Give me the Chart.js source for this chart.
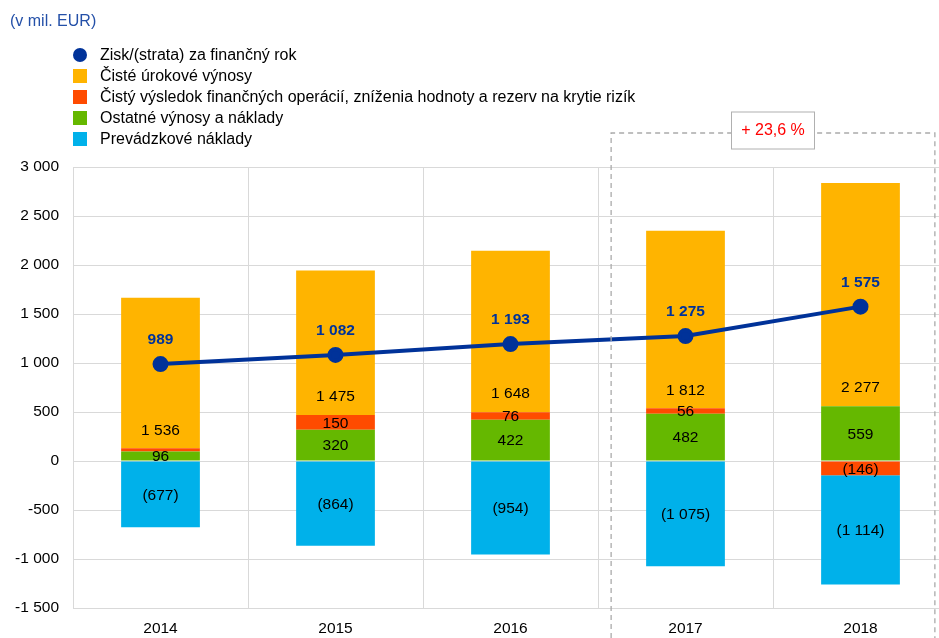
<!DOCTYPE html>
<html>
<head>
<meta charset="utf-8">
<script src="https://cdn.jsdelivr.net/npm/chart.js@4"></script>
<style>
  html, body { margin: 0; padding: 0; overflow: hidden; background: #fff; }
  body { width: 939px; height: 638px; position: relative; font-family: "Liberation Sans", Arial, sans-serif; }
  #graphId { position: absolute; left: 0; top: 0; }
  .unit { position: absolute; left: 10px; top: 12px; font-size: 16px; color: #2450a8; }
  .legend { position: absolute; left: 73px; top: 44px; font-size: 16px; color: #000; }
  .legend div { height: 21px; line-height: 21px; position: relative; padding-left: 27px; white-space: nowrap; }
  .legend span { position: absolute; left: 0; top: 4px; width: 14px; height: 14px; }
  .legend span.dot { border-radius: 50%; width: 14px; height: 14px; }
</style>
</head>
<body>
<canvas id="graphId" width="948" height="638"></canvas>
<div class="unit">(v mil. EUR)</div>
<div class="legend" id="legend"></div>
<script>
var years = ['2014', '2015', '2016', '2017', '2018'];
var profit = [989, 1082, 1193, 1275, 1575];
var interest = [1536, 1475, 1648, 1812, 2277];
var finOps = [34, 150, 76, 56, -146];
var finOpsShown = [false, true, true, true, true];
var otherInc = [96, 320, 422, 482, 559];
var opCosts = [-677, -864, -954, -1075, -1114];
var yTicks = [-1500, -1000, -500, 0, 500, 1000, 1500, 2000, 2500, 3000];
var growthText = '+ 23,6 %';

var names = {
    profit: 'Zisk/(strata) za finančný rok',
    interest: 'Čisté úrokové výnosy',
    finOps: 'Čistý výsledok finančných operácií, zníženia hodnoty a rezerv na krytie rizík',
    otherInc: 'Ostatné výnosy a náklady',
    opCosts: 'Prevádzkové náklady'
};
var colors = {
    profit: '#003299',
    interest: '#FFB400',
    finOps: '#FF4B00',
    otherInc: '#65B800',
    opCosts: '#00B1EA'
};

function fmt(v) {
    var s = Math.abs(v).toString().replace(/\B(?=(\d{3})+(?!\d))/g, ' ');
    return v < 0 ? '(' + s + ')' : s;
}
function fmtTick(v) {
    var s = Math.abs(v).toString().replace(/\B(?=(\d{3})+(?!\d))/g, ' ');
    return v < 0 ? '-' + s : s;
}

// html legend
var legendOrder = ['profit', 'interest', 'finOps', 'otherInc', 'opCosts'];
var legendHtml = '';
legendOrder.forEach(function(k) {
    legendHtml += '<div><span class="' + (k == 'profit' ? 'dot' : '') + '" style="background:' + colors[k] + '"></span>' + names[k] + '</div>';
});
document.getElementById('legend').innerHTML = legendHtml;

var FONT = '"Liberation Sans", Arial, sans-serif';
var FS = 15.5;

var labelPlugin = {
    id: 'labels',
    afterDatasetsDraw: function(chart) {
        var ctx = chart.ctx;
        ctx.save();
        ctx.textAlign = 'center';
        ctx.textBaseline = 'middle';
        chart.data.datasets.forEach(function(ds, di) {
            var meta = chart.getDatasetMeta(di);
            meta.data.forEach(function(el, i) {
                var v = ds.data[i];
                if (ds.key == 'profit') {
                    ctx.font = 'bold ' + FS + 'px ' + FONT;
                    ctx.fillStyle = colors.profit;
                    ctx.fillText(fmt(v), el.x, el.y - 24);
                    return;
                }
                if (ds.key == 'finOps' && !finOpsShown[i]) return;
                ctx.font = FS + 'px ' + FONT;
                ctx.fillStyle = '#000';
                var y = (el.y + el.base) / 2;
                if (ds.key == 'interest') y = el.base - 19;
                ctx.fillText(fmt(v), el.x, y + 1);
            });
        });
        ctx.restore();
    },
    afterDraw: function(chart) {
        var ctx = chart.ctx;
        var x = chart.scales.x;
        var area = chart.chartArea;
        var step = x.getPixelForValue(1) - x.getPixelForValue(0);
        var left = x.getPixelForValue(3) - step * 0.425;
        var right = x.getPixelForValue(4) + step * 0.425;
        var top = area.top - 34;
        ctx.save();
        ctx.strokeStyle = '#aaaaaa';
        ctx.lineWidth = 1.3;
        ctx.setLineDash([5, 4]);
        ctx.beginPath();
        ctx.moveTo(left, chart.height);
        ctx.lineTo(left, top);
        ctx.lineTo(right, top);
        ctx.lineTo(right, chart.height);
        ctx.stroke();
        ctx.setLineDash([]);
        var cx = (left + right) / 2;
        ctx.fillStyle = '#fff';
        ctx.fillRect(cx - 41.5, top - 21, 83, 37);
        ctx.strokeStyle = '#b0b0b0';
        ctx.lineWidth = 1;
        ctx.strokeRect(cx - 41.5, top - 21, 83, 37);
        ctx.font = '16px ' + FONT;
        ctx.fillStyle = '#ff0000';
        ctx.textAlign = 'center';
        ctx.textBaseline = 'middle';
        ctx.fillText(growthText, cx, top - 2);
        ctx.restore();
    }
};

function barSet(key, data) {
    return {
        type: 'bar',
        key: key,
        label: names[key],
        data: data,
        backgroundColor: colors[key],
        borderWidth: 0,
        stack: 's',
        order: 1,
        barPercentage: 0.45,
        categoryPercentage: 1.0
    };
}

var ctx = document.getElementById('graphId').getContext('2d');
var myChart = new Chart(ctx, {
    type: 'bar',
    data: {
        labels: years,
        datasets: [
            {
                type: 'line',
                key: 'profit',
                label: names.profit,
                data: profit,
                borderColor: colors.profit,
                backgroundColor: colors.profit,
                borderWidth: 4,
                pointRadius: 6,
                pointHoverRadius: 6,
                tension: 0,
                order: 0
            },
            barSet('otherInc', otherInc),
            barSet('finOps', finOps),
            barSet('interest', interest),
            barSet('opCosts', opCosts)
        ]
    },
    options: {
        responsive: false,
        maintainAspectRatio: false,
        devicePixelRatio: 1,
        animation: false,
        layout: { autoPadding: false, padding: { top: 167, left: 0, right: 0, bottom: 0 } },
        plugins: { legend: { display: false }, tooltip: { enabled: false } },
        scales: {
            x: {
                stacked: true,
                grid: { color: '#d9d9d9', drawTicks: false, offset: true },
                border: { color: '#d9d9d9' },
                ticks: { color: '#000', font: { family: FONT, size: FS }, padding: 11, maxRotation: 0 },
                afterFit: function(scale) { scale.height = 30; }
            },
            y: {
                stacked: true,
                min: -1500,
                max: 3000,
                grid: { color: '#d9d9d9', drawTicks: false },
                border: { color: '#d9d9d9' },
                afterBuildTicks: function(scale) {
                    scale.ticks = yTicks.map(function(v) { return { value: v }; });
                },
                ticks: {
                    color: '#000',
                    font: { family: FONT, size: FS },
                    padding: 14,
                    callback: function(v) { return fmtTick(v); }
                },
                afterFit: function(scale) { scale.width = 73; }
            }
        }
    },
    plugins: [labelPlugin]
});
</script>
</body>
</html>
